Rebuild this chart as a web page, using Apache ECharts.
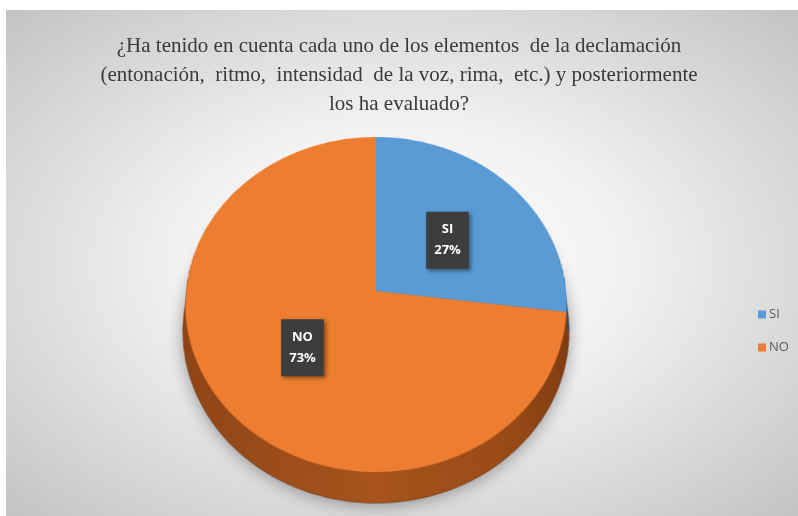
<!DOCTYPE html>
<html>
<head>
<meta charset="utf-8">
<script src="https://cdn.jsdelivr.net/npm/echarts@6/dist/echarts.min.js"></script>
<style>
html,body{margin:0;padding:0;background:#fff;}
#wrap{position:relative;width:798px;height:516px;overflow:hidden;background:#fff;}
#bg{position:absolute;left:6px;top:10px;width:792px;height:506px;
  background:radial-gradient(ellipse at 50% 50%, #ffffff 0%, #f1f1f1 40%, #c3c3c3 100%);}
#pie{position:absolute;left:0;top:-59px;width:798px;height:620px;
  transform-origin:376px 350px;transform:perspective(1137px) rotateX(28.8deg);}
#top{position:absolute;left:0;top:0;width:798px;height:516px;}
</style>
</head>
<body>
<div id="wrap">
  <div id="bg"></div>
  <div id="pie"></div>
  <div id="top"></div>
</div>
<script>
var titleText = '¿Ha tenido en cuenta cada uno de los elementos  de la declamación\n(entonación,  ritmo,  intensidad  de la voz, rima,  etc.) y posteriormente\nlos ha evaluado?';
var categories = ['SI', 'NO'];
var values = [27, 73];
var topColors = ['#5B9BD5', '#ED7D31'];

var cx = 376, cyA = 350, R = 190, depthA = 29.5;

// ---------- pie layer (tilted with CSS perspective) ----------
var pieChart = echarts.init(document.getElementById('pie'), null, {renderer: 'canvas'});
var pieSeries = [];
pieSeries.push({
  type: 'pie', z: 5, center: [cx, cyA], radius: [0, R],
  startAngle: 90, clockwise: true, silent: true,
  label: {show: false}, labelLine: {show: false},
  data: categories.map(function (c, i) {
    return {name: c, value: values[i], itemStyle: {color: topColors[i]}};
  })
});
for (var k = depthA; k >= 0.5; k -= 0.75) {
  (function (kk) {
    var t = kk / depthA; // 1 at bottom edge, 0 at top edge
    pieSeries.push({
      type: 'pie', z: 2, center: [cx, cyA + kk], radius: [0, R],
      startAngle: 90, clockwise: true, silent: true,
      label: {show: false}, labelLine: {show: false},
      data: categories.map(function (c, i) {
        var style = {
          color: {
            type: 'linear', x: 0, y: 0, x2: 1, y2: 0,
            colorStops: i === 1 ? [
              {offset: 0, color: '#8e4417'},
              {offset: 0.5, color: '#a7541c'},
              {offset: 0.85, color: '#974916'},
              {offset: 1, color: '#7e3c11'}
            ] : [
              {offset: 0, color: '#3a6690'},
              {offset: 1, color: '#2f5678'}
            ]
          }
        };
        if (kk === depthA) {
          style.shadowBlur = 16;
          style.shadowColor = 'rgba(0,0,0,0.35)';
          style.shadowOffsetY = 2;
          style.borderColor = 'rgba(90,40,10,0.6)';
          style.borderWidth = 1;
        }
        return {name: c, value: values[i], itemStyle: style};
      })
    });
  })(k);
}
pieChart.setOption({animation: false, series: pieSeries});

// ---------- title, legend, labels layer ----------
var topChart = echarts.init(document.getElementById('top'), null, {renderer: 'canvas'});
topChart.setOption({
  animation: false,
  title: {
    text: titleText,
    left: 'center',
    top: 27,
    textStyle: {
      fontFamily: 'Liberation Serif, Times New Roman, serif',
      fontWeight: 'normal',
      fontSize: 21,
      lineHeight: 29,
      color: '#3a3a3a'
    }
  },
  legend: {
    orient: 'vertical',
    left: 753,
    top: 303,
    itemWidth: 8,
    itemHeight: 8,
    itemGap: 20,
    selectedMode: false,
    icon: 'rect',
    data: categories.map(function (c, i) {
      return {name: c, itemStyle: {color: topColors[i]}};
    }),
    textStyle: {
      fontFamily: 'Open Sans, Noto Sans, sans-serif',
      fontSize: 13,
      color: '#595959',
      padding: [0, 0, 0, -2]
    }
  },
  series: [{
    type: 'pie', center: [cx, 291], radius: [0, 190],
    startAngle: 90, clockwise: true, silent: true,
    itemStyle: {color: 'rgba(0,0,0,0)'},
    labelLine: {show: false},
    label: {
      show: true,
      position: 'inside',
      formatter: '{b}\n{d}%',
      color: '#ffffff',
      fontFamily: 'Open Sans, Noto Sans, sans-serif',
      fontWeight: 'bold',
      fontSize: 13,
      lineHeight: 21,
      backgroundColor: '#3d3d3d',
      padding: [8, 8, 7, 8],
      shadowBlur: 4,
      shadowColor: 'rgba(0,0,0,0.45)',
      shadowOffsetX: 2,
      shadowOffsetY: 2
    },
    data: categories.map(function (c, i) {
      var item = {name: c, value: values[i]};
      item.label = {offset: i === 0 ? [-2, 14] : [0, -8]};
      return item;
    })
  }]
});
</script>
</body>
</html>
